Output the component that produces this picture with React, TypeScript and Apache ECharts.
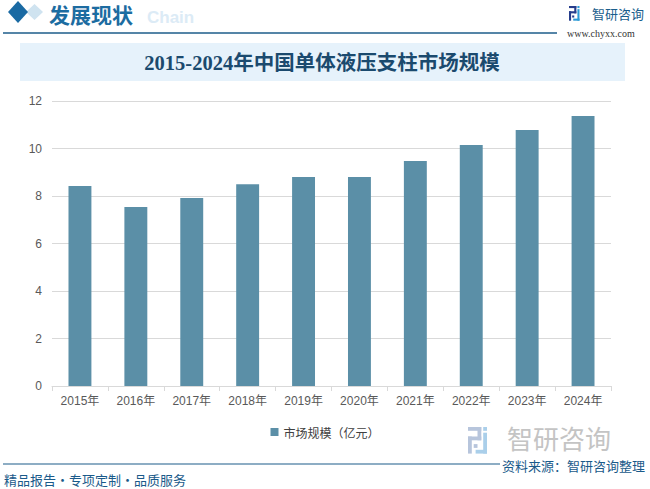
import React, { useEffect, useRef } from "react";
import * as echarts from "echarts";

const categories = ["2015年", "2016年", "2017年", "2018年", "2019年", "2020年", "2021年", "2022年", "2023年", "2024年"];
const marketSize = [8.42, 7.54, 7.92, 8.5, 8.8, 8.8, 9.47, 10.15, 10.78, 11.37];
const seriesName = "市场规模（亿元）";
const chartTitle = "2015-2024年中国单体液压支柱市场规模";

function logoIcon(x: number, y: number, s: number, dark: string, light: string, z = 10) {
  const r = (rx: number, ry: number, w: number, h: number, c: string) => ({
    type: "rect",
    shape: { x: rx, y: ry, width: w, height: h },
    style: { fill: c },
  });
  return {
    type: "group",
    x,
    y,
    scaleX: s,
    scaleY: s,
    z,
    silent: true,
    children: [
      r(0, 0, 7, 2, dark),
      r(5, 0, 2, 7, dark),
      r(0, 5, 7, 2, dark),
      r(0, 5, 2, 9, dark),
      r(3, 9, 2, 2, dark),
      r(8, 0, 2, 2, light),
      r(8, 3, 2, 11, light),
      r(4, 12, 6, 2, light),
    ],
  };
}

export default function App() {
  const ref = useRef<HTMLDivElement>(null);
  useEffect(() => {
    if (!ref.current) return;
    const chart = echarts.init(ref.current, undefined, { renderer: "svg" });
    const sans = "Liberation Sans, Noto Sans CJK SC, sans-serif";
    const cjk = "Noto Sans CJK SC, sans-serif";
    const serif = "Liberation Serif, Noto Sans CJK SC, serif";
    chart.setOption({
      animation: false,
      backgroundColor: "#ffffff",
      grid: { left: 52, right: 39, top: 101, bottom: 103, containLabel: false },
      legend: {
        data: [seriesName],
        left: "center",
        top: 421,
        itemWidth: 8,
        itemHeight: 8,
        icon: "rect",
        itemGap: 10,
        textStyle: { fontSize: 12, color: "#404040", fontFamily: cjk },
      },
      xAxis: {
        type: "category",
        data: categories,
        axisLine: { lineStyle: { color: "#d9d9d9" } },
        axisTick: { show: true, alignWithLabel: false, length: 5, lineStyle: { color: "#d9d9d9" } },
        axisLabel: { color: "#595959", fontSize: 12, margin: 9, fontFamily: sans },
      },
      yAxis: {
        type: "value",
        min: 0,
        max: 12,
        interval: 2,
        axisLine: { show: false },
        axisTick: { show: false },
        axisLabel: { color: "#595959", fontSize: 12, margin: 10, fontFamily: sans },
        splitLine: { lineStyle: { color: "#d9d9d9" } },
      },
      series: [
        {
          name: seriesName,
          type: "bar",
          data: marketSize,
          barWidth: "41%",
          itemStyle: { color: "#5b8fa7" },
        },
      ],
      graphic: [
        {
          type: "polygon",
          shape: { points: [[34.5, 4], [43, 12], [34.5, 20], [26, 12]] },
          style: { fill: "#cfe3f0" },
          silent: true,
        },
        {
          type: "polygon",
          shape: { points: [[18, 1], [28, 12], [18, 23], [8, 12]] },
          style: { fill: "#1a6aa3" },
          silent: true,
        },
        {
          type: "text",
          x: 147,
          y: 17,
          style: { text: "Chain", fill: "#dcebf6", font: "bold 17px Liberation Sans, sans-serif", textVerticalAlign: "middle", lineHeight: 17 },
          silent: true,
        },
        {
          type: "text",
          x: 49,
          y: 14,
          style: { text: "发展现状", fill: "#1c6ca1", font: "bold 21px Noto Sans CJK SC, sans-serif", textVerticalAlign: "middle", lineHeight: 21 },
          silent: true,
        },
        {
          type: "line",
          shape: { x1: 3, y1: 33, x2: 557, y2: 33 },
          style: { stroke: "#1d5d8a", lineWidth: 1.5 },
          silent: true,
        },
        logoIcon(569, 6, 1.05, "#263d8c", "#2b9ad6"),
        {
          type: "text",
          x: 592,
          y: 13,
          style: { text: "智研咨询", fill: "#1a5d8c", font: "13px Noto Sans CJK SC, sans-serif", textVerticalAlign: "middle", lineHeight: 14 },
          silent: true,
        },
        {
          type: "text",
          x: 567,
          y: 33,
          style: { text: "www.chyxx.com", fill: "#333333", font: "10px Liberation Serif, serif", textVerticalAlign: "middle", lineHeight: 11 },
          silent: true,
        },
        {
          type: "rect",
          shape: { x: 20, y: 43, width: 605, height: 38 },
          style: { fill: "#e6f2fb" },
          silent: true,
          z: -1,
        },
        {
          type: "text",
          x: 322,
          y: 63,
          style: {
            text: chartTitle,
            fill: "#1b4a6e",
            font: "bold 20.5px " + serif,
            textAlign: "center",
            textVerticalAlign: "middle",
          },
          silent: true,
        },
        logoIcon(468, 427, 1.9, "#b7c5dc", "#aacfea"),
        {
          type: "text",
          x: 507,
          y: 437,
          style: { text: "智研咨询", fill: "#c4c4c4", font: "26px Noto Sans CJK SC, sans-serif", textVerticalAlign: "middle", lineHeight: 24 },
          silent: true,
        },
        {
          type: "line",
          shape: { x1: 3, y1: 464, x2: 500, y2: 464 },
          style: { stroke: "#1d5d8a", lineWidth: 1.2 },
          silent: true,
        },
        {
          type: "text",
          x: 645,
          y: 465,
          style: {
            text: "资料来源：智研咨询整理",
            fill: "#1a5a8a",
            font: "13px Noto Sans CJK SC, sans-serif",
            textAlign: "right",
            textVerticalAlign: "middle",
            lineHeight: 14,
          },
          silent: true,
        },
        {
          type: "text",
          x: 4,
          y: 479,
          style: {
            text: "精品报告·专项定制·品质服务",
            fill: "#1a5a8a",
            font: "13px Noto Sans CJK SC, sans-serif",
            textVerticalAlign: "middle",
            lineHeight: 14,
          },
          silent: true,
        },
      ],
    });
    return () => chart.dispose();
  }, []);
  return <div ref={ref} style={{ position: "fixed", left: 0, top: 0, width: 650, height: 489 }} />;
}
